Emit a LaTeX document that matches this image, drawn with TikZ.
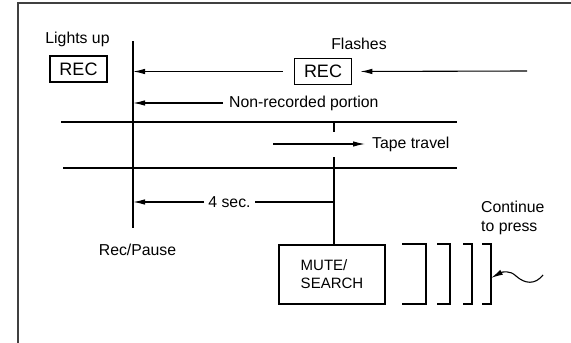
\documentclass[tikz,border=0pt]{standalone}
\usepackage{fontspec}
\setmainfont{Liberation Sans}
\usetikzlibrary{arrows.meta,positioning}
\begin{document}
\begin{tikzpicture}[
  x=1pt, y=-1pt,
  >={Latex[length=12pt,width=5.5pt]},
  txt/.style={font=\fontsize{15.8}{19}\selectfont, inner sep=2pt, align=left},
  recbox/.style={rectangle, draw, line width=1.6pt, font=\fontsize{18}{20}\selectfont, minimum width=57pt, minimum height=26pt, inner sep=0pt},
  mutebox/.style={rectangle, draw, line width=1.4pt, align=left, font=\fontsize{15}{18}\selectfont, minimum width=106pt, minimum height=59pt},
  bracket/.style={line width=1.4pt},
  arrow/.style={->, line width=1.1pt},
  tape/.style={line width=1.7pt}
]
\useasboundingbox (0,0) rectangle (571,343);
\def\xRecPause{133}
\def\xMid{334}
\def\yRec{71}
\def\yNonRec{103}
\def\yTapeTop{122}
\def\yTravel{144}
\def\yTapeBot{168}
\def\yFourSec{202}
\draw[line width=1.5pt, black!75] (18,343) -- (18,3) -- (571,3);
\node[txt] (lightsup) at (77.5,39) {Lights up};
\node[recbox] (recL) at (78.5,69) {REC};
\node[txt] (flashes) at (359,44) {Flashes};
\node[recbox] (recR) at (323,71.5) {REC};
\coordinate (rpTop) at (\xRecPause,41);
\coordinate (rpBot) at (\xRecPause,228);
\coordinate (feed) at (527,\yRec);
\node[txt, anchor=west] (nonrec) at (227,\yNonRec) {Non-recorded portion};
\coordinate (tapeTopL) at (61,\yTapeTop);
\coordinate (tapeTopR) at (457,\yTapeTop);
\coordinate (tapeBotL) at (63,\yTapeBot);
\coordinate (tapeBotR) at (457,\yTapeBot);
\coordinate (travelStart) at (273,\yTravel);
\node[txt, anchor=west] (travel) at (370,\yTravel) {Tape travel};
\node[txt, inner sep=4pt] (foursec) at (229.5,\yFourSec) {4 sec.};
\node[txt] (recpause) at (137.5,250) {Rec/Pause};
\node[mutebox] (mute) at (332,274.5) {MUTE/\\SEARCH};
\node[txt, anchor=north west] (press) at (479,199) {Continue\\to press};
\coordinate (midTick) at (\xMid,\yTapeTop);
\coordinate (midTop) at (\xMid,157);
\coordinate (waveStart) at (543,275);
\draw[tape] (rpTop) -- (rpBot);
\draw[tape] (tapeTopL) -- (tapeTopR);
\draw[tape] (tapeBotL) -- (tapeBotR);
\draw[line width=1.3pt] (midTick) -- ++(0,10);
\draw[line width=1.3pt] (midTop) -- (midTop |- mute.north);
\draw[arrow, shorten <=11pt] (recR.west) -- (recR.west -| rpTop);
\draw[arrow, shorten >=8pt] (feed) -- (recR.east);
\draw[arrow, shorten <=4pt] (nonrec.west) -- (nonrec.west -| rpTop);
\draw[arrow, shorten >=5pt] (travelStart) -- (travel.west);
\draw[line width=1.1pt] (midTop |- foursec) -- (foursec.east);
\draw[arrow] (foursec.west) -- (foursec.west -| rpTop);
\foreach \l/\r [count=\i] in {402/426, 437/450, 463/472, 482/491} {
  \draw[bracket] (\l,244) -- (\r,244) -- (\r,304) -- (\l,304);
  \coordinate (br\i) at (\r,278);
}
\draw[arrow] (waveStart) .. controls (535,285) and (525,284) .. (516,276) .. controls (510,270) and (502,272) .. (br4);
\end{tikzpicture}
\end{document}
